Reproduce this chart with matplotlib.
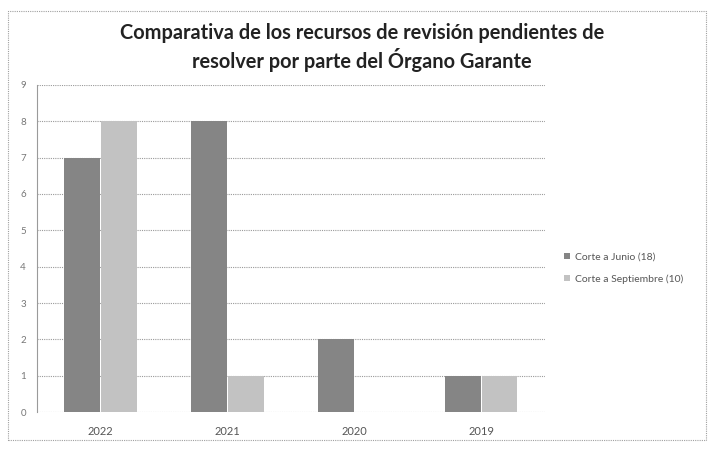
import numpy as np
import matplotlib
matplotlib.use("Agg")
import matplotlib.pyplot as plt
from matplotlib.patches import Rectangle

# datos
anios = ["2022", "2021", "2020", "2019"]
corte_junio = [7, 8, 2, 1]
corte_septiembre = [8, 1, 0, 1]
etiquetas = ["Corte a Junio (18)", "Corte a Septiembre (10)"]

plt.rcParams["font.family"] = ["Lato", "DejaVu Sans"]

fig = plt.figure(figsize=(7.12, 4.49), dpi=100)
ax = fig.add_axes([0.052, 0.082, 0.713, 0.729])

x = np.arange(len(anios))
ancho = 0.28
ax.bar(x - 0.145, corte_junio, ancho, color="#858585", label=etiquetas[0], zorder=3)
ax.bar(x + 0.145, corte_septiembre, ancho, color="#c2c2c2", label=etiquetas[1], zorder=3)

ax.set_xlim(-0.5, len(anios) - 0.5)
ax.set_ylim(0, 9)
ax.set_yticks(range(0, 10))
ax.set_xticks(x)
ax.set_xticklabels(anios)
ax.tick_params(axis="y", labelsize=7, colors="#777777", length=0, pad=8)
ax.tick_params(axis="x", labelsize=8, colors="#555555", length=0, pad=10)
ax.grid(axis="y", linestyle=(0, (1, 1)), color="#9a9a9a", linewidth=0.8, zorder=0)
for lado in ["top", "right", "bottom"]:
    ax.spines[lado].set_visible(False)
ax.spines["left"].set_linestyle((0, (1, 1)))
ax.spines["left"].set_color("#9a9a9a")
ax.spines["left"].set_linewidth(0.8)

fig.text(0.508, 0.895, "Comparativa de los recursos de revisión pendientes de\nresolver por parte del Órgano Garante",
         ha="center", va="center", fontsize=14.4, fontweight="bold", color="#222222", linespacing=1.25)

leg = ax.legend(loc="center left", bbox_to_anchor=(1.02, 0.44), frameon=False, fontsize=7.5,
                handlelength=0.6, handleheight=0.6, labelspacing=1.2, handletextpad=0.4)
for t in leg.get_texts():
    t.set_color("#555555")

# marco exterior punteado
fig.patches.append(Rectangle((0.011, 0.02), 0.98, 0.955, transform=fig.transFigure, fill=False,
                             edgecolor="#a0a0a0", linestyle=(0, (1, 1)), linewidth=0.8))

fig.savefig("out.png", dpi=100, facecolor="white")
